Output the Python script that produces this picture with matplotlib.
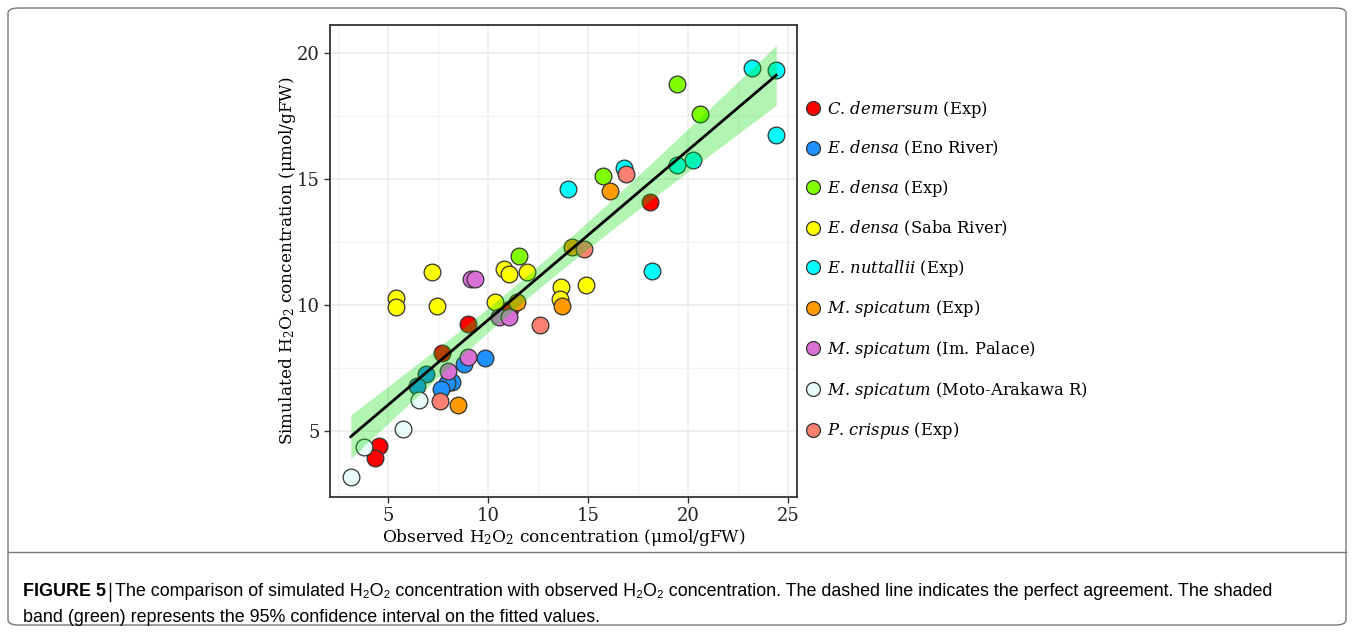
import matplotlib
matplotlib.use("Agg")
import matplotlib.pyplot as plt
from matplotlib.lines import Line2D
from matplotlib.patches import FancyBboxPatch
import numpy as np

plt.rcParams['font.family'] = ['DejaVu Serif']
plt.rcParams['mathtext.fontset'] = 'custom'
plt.rcParams['mathtext.rm'] = 'DejaVu Serif'
plt.rcParams['mathtext.it'] = 'DejaVu Serif:italic'

# observed / simulated H2O2 per group (umol/gFW)
species = ["C. demersum", "E. densa", "E. densa", "E. densa", "E. nuttallii",
           "M. spicatum", "M. spicatum", "M. spicatum", "P. crispus"]
sites = ["Exp", "Eno River", "Exp", "Saba River", "Exp",
         "Exp", "Im. Palace", "Moto-Arakawa R", "Exp"]
colors = ["#FF0000", "#1E90FF", "#7FFF00", "#FFFF00", "#00FFFF",
          "#FF9A00", "#DA70D6", "#E8FCFA", "#FA8072"]

obs_c_demersum = [4.52, 4.32, 9.0, 18.07, 7.7, 11.1]
sim_c_demersum = [4.40, 3.93, 9.25, 14.08, 8.11, 9.85]
obs_e_densa_eno = [9.84, 8.8, 8.19, 7.92, 7.64, 6.87, 6.45]
sim_e_densa_eno = [7.91, 7.65, 6.93, 6.89, 6.65, 7.25, 6.77]
obs_e_densa_exp = [19.45, 20.59, 15.75, 11.53]
sim_e_densa_exp = [18.76, 17.56, 15.13, 11.94]
obs_e_densa_saba = [7.17, 10.79, 11.04, 11.92, 13.64, 13.6, 5.39, 5.4, 7.42, 10.35, 14.89]
sim_e_densa_saba = [11.30, 11.43, 11.23, 11.30, 10.70, 10.24, 10.27, 9.93, 9.97, 10.13, 10.78]
obs_e_nuttallii = [23.17, 24.39, 24.37, 20.25, 19.45, 16.79, 14.0, 18.19]
sim_e_nuttallii = [19.38, 19.31, 16.72, 15.74, 15.56, 15.44, 14.59, 11.35]
obs_m_spic_exp = [16.09, 14.17, 13.67, 11.42, 8.49]
sim_m_spic_exp = [14.52, 12.31, 9.97, 10.13, 6.03]
obs_m_spic_palace = [9.13, 9.33, 10.55, 11.04, 9.0, 8.0]
sim_m_spic_palace = [11.03, 11.03, 9.51, 9.51, 7.95, 7.38]
obs_m_spic_moto = [6.52, 5.72, 3.8, 3.12]
sim_m_spic_moto = [6.24, 5.09, 4.37, 3.16]
obs_p_crispus = [16.89, 14.8, 12.59, 7.6]
sim_p_crispus = [15.19, 12.2, 9.21, 6.2]

observed = [obs_c_demersum, obs_e_densa_eno, obs_e_densa_exp, obs_e_densa_saba,
            obs_e_nuttallii, obs_m_spic_exp, obs_m_spic_palace, obs_m_spic_moto,
            obs_p_crispus]
simulated = [sim_c_demersum, sim_e_densa_eno, sim_e_densa_exp, sim_e_densa_saba,
             sim_e_nuttallii, sim_m_spic_exp, sim_m_spic_palace, sim_m_spic_moto,
             sim_p_crispus]

W, H = 1354, 633
fig = plt.figure(figsize=(W / 100, H / 100), dpi=100)

# outer frame and caption separator
fig.patches.append(FancyBboxPatch((8 / W, 8 / H), 1338 / W, 617 / H,
                                  boxstyle="round,pad=0,rounding_size=0.008",
                                  transform=fig.transFigure, fill=False,
                                  edgecolor="#777777", linewidth=1.0))
fig.add_artist(Line2D([8 / W, 1346 / W], [1 - 552 / H, 1 - 552 / H],
                      transform=fig.transFigure, color="#777777", linewidth=1.0))

ax = fig.add_axes([330 / W, 1 - 497 / H, 467 / W, 472 / H])

for xs, ys, c in zip(observed, simulated, colors):
    ax.scatter(xs, ys, s=145, color=c, edgecolors="#333333", linewidths=0.9, zorder=3)

# linear fit with 95% confidence band
x_all = np.concatenate([np.asarray(v) for v in observed])
y_all = np.concatenate([np.asarray(v) for v in simulated])
n = len(x_all)
slope, intercept = np.polyfit(x_all, y_all, 1)
resid = y_all - (slope * x_all + intercept)
s_err = np.sqrt(np.sum(resid ** 2) / (n - 2))
xbar = x_all.mean()
sxx = np.sum((x_all - xbar) ** 2)
t_val = 2.006
xf = np.linspace(x_all.min(), x_all.max(), 100)
yf = slope * xf + intercept
half = t_val * s_err * np.sqrt(1 / n + (xf - xbar) ** 2 / sxx)
ax.fill_between(xf, yf - half, yf + half, color=(0, 0.86, 0), alpha=0.3,
                linewidth=0, zorder=4)
ax.plot(xf, yf, color="black", linewidth=2, zorder=5)

ax.set_xlim(2.08, 25.43)
ax.set_ylim(2.38, 21.1)
ax.set_xticks([5, 10, 15, 20, 25])
ax.set_yticks([5, 10, 15, 20])
ax.set_xticks(np.arange(2.5, 25.1, 2.5), minor=True)
ax.set_yticks(np.arange(2.5, 20.1, 2.5), minor=True)
ax.grid(which="major", color="#EBEBEB", linewidth=1.1, zorder=0)
ax.grid(which="minor", color="#F2F2F2", linewidth=0.9, zorder=0)
ax.set_axisbelow(True)
ax.tick_params(which="major", direction="out", length=4, width=1, color="#333333",
               labelsize=13, labelcolor="#222222")
ax.tick_params(which="minor", length=0)
for sp in ax.spines.values():
    sp.set_color("#333333")
    sp.set_linewidth(1.3)

ax.set_xlabel(r"Observed H$_2$O$_2$ concentration ($\mathrm{\mu}$mol/gFW)",
              fontsize=12.2, labelpad=1.5)
ax.set_ylabel(r"Simulated H$_2$O$_2$ concentration ($\mathrm{\mu}$mol/gFW)",
              fontsize=12.2, labelpad=-1)


def italic_name(name):
    # genus initial with upright dot, species italic
    genus, sp = name.split(". ")
    return r"$\mathit{%s}$. $\mathit{%s}$" % (genus, sp)


handles = [Line2D([], [], linestyle="none", marker="o", markersize=10,
                  markerfacecolor=c, markeredgecolor="#333333", markeredgewidth=0.9)
           for c in colors]
labels = [italic_name(sp) + " (%s)" % st for sp, st in zip(species, sites)]
fig.legend(handles, labels, loc="upper left", bbox_to_anchor=(797 / W, 1 - 92 / H),
           frameon=False, fontsize=11.8, labelspacing=1.2, handletextpad=0.25,
           handlelength=1.2, borderaxespad=0)

cap_font = ["Liberation Sans", "DejaVu Sans"]
cap_size = 12.9
cap_y1 = 1 - 592 / H
t1 = fig.text(23 / W, cap_y1, "FIGURE 5", family=cap_font, weight="bold",
              fontsize=cap_size, va="center", ha="left")
fig.canvas.draw()
bb = t1.get_window_extent()
fig.add_artist(Line2D([(bb.x1 + 4) / W, (bb.x1 + 4) / W],
                      [1 - 583 / H, 1 - 601 / H], transform=fig.transFigure,
                      color="black", linewidth=1.0))
fig.text((bb.x1 + 9) / W, cap_y1,
         "The comparison of simulated H\u2082O\u2082 concentration with observed H\u2082O\u2082 "
         "concentration. The dashed line indicates the perfect agreement. The shaded",
         family=cap_font, fontsize=cap_size, va="center", ha="left")
fig.text(23 / W, 1 - 618 / H,
         "band (green) represents the 95% confidence interval on the fitted values.",
         family=cap_font, fontsize=cap_size, va="center", ha="left")

fig.savefig("out.png", dpi=100)
